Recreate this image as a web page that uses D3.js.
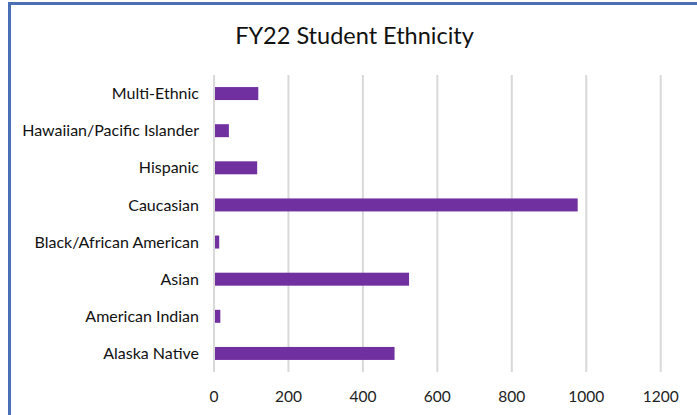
<!DOCTYPE html>
<html><head><meta charset="utf-8">
<script src="https://cdn.jsdelivr.net/npm/d3@7"></script>
<style>body{margin:0;background:#fff}svg{display:block}</style>
</head><body>
<script>
const categories = ["Multi-Ethnic","Hawaiian/Pacific Islander","Hispanic","Caucasian","Black/African American","Asian","American Indian","Alaska Native"];
const values = [119, 40, 116, 977, 14, 524, 17, 485];
const ticks = [0, 200, 400, 600, 800, 1000, 1200];
const title = "FY22 Student Ethnicity";

const W = 697, H = 415;
const svg = d3.select("body").append("svg").attr("width", W).attr("height", H);
svg.append("rect").attr("width", W).attr("height", H).attr("fill", "#fff");

const m = {left: 214, right: 697-660.7, top: 75, bottom: 415-372};
const x = d3.scaleLinear().domain([0, 1200]).range([m.left, W - m.right]);
const y = d3.scaleBand().domain(categories).range([m.top, H - m.bottom]).paddingInner(0.65).paddingOuter(0.325);

svg.append("g").selectAll("line").data(ticks).join("line")
  .attr("x1", d => x(d)).attr("x2", d => x(d))
  .attr("y1", m.top).attr("y2", H - m.bottom)
  .attr("stroke", "#d9d9d9").attr("stroke-width", 2);

svg.append("g").selectAll("rect").data(categories).join("rect")
  .attr("x", x(0) + 1).attr("y", d => y(d))
  .attr("width", (d, i) => x(values[i]) - x(0) - 1)
  .attr("height", y.bandwidth())
  .attr("fill", "#7030a0");

const font = "Lato, 'Open Sans', sans-serif";
svg.append("g").selectAll("text").data(categories).join("text")
  .attr("x", 199).attr("y", d => y(d) + y.bandwidth()/2)
  .attr("dy", "0.35em").attr("text-anchor", "end")
  .attr("font-family", font).attr("font-size", 16).attr("fill", "#111")
  .text(d => d);

svg.append("g").selectAll("text").data(ticks).join("text")
  .attr("x", d => x(d)).attr("y", 401.5)
  .attr("text-anchor", "middle")
  .attr("font-family", font).attr("font-size", 15.5).attr("fill", "#222")
  .text(d => d);

svg.append("text").attr("x", 354.5).attr("y", 44.3)
  .attr("text-anchor", "middle").attr("font-family", font)
  .attr("font-size", 23.5).attr("fill", "#111").text(title);

// frame
svg.append("line").attr("x1", 8).attr("x2", W).attr("y1", 3.5).attr("y2", 3.5)
  .attr("stroke", "#4a6fb5").attr("stroke-width", 3);
svg.append("line").attr("x1", 9.5).attr("x2", 9.5).attr("y1", 2).attr("y2", H)
  .attr("stroke", "#4a6fb5").attr("stroke-width", 3);
</script>
</body></html>
